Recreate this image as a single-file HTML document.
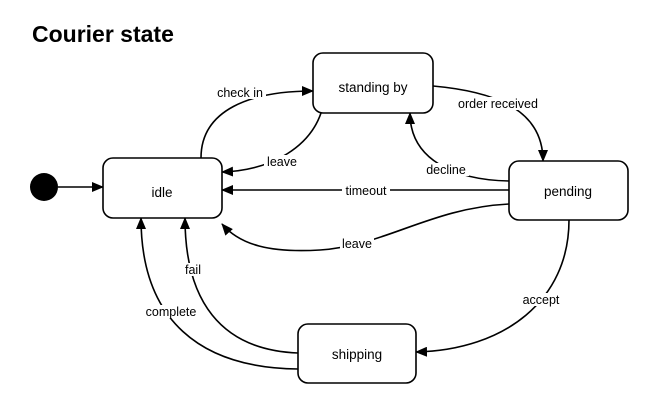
<!DOCTYPE html>
<html><head><meta charset="utf-8"><style>
html,body{margin:0;padding:0;background:#fff;}
svg{display:block;font-family:"Liberation Sans",sans-serif;}
</style></head><body>
<svg width="646" height="404" viewBox="0 0 646 404" xmlns="http://www.w3.org/2000/svg">
<defs>
<marker id="a" markerWidth="12" markerHeight="10" refX="11" refY="5" orient="auto" markerUnits="userSpaceOnUse">
<path d="M0,0 L12,5 L0,10 z" fill="#000"/></marker>
</defs>
<text x="32" y="42" font-size="23" font-weight="bold">Courier state</text>
<circle cx="44" cy="187" r="14" fill="#000"/>
<g fill="none" stroke="#000" stroke-width="1.6">
<path d="M58,187 L103,187" marker-end="url(#a)"/>
<path d="M201,158 C201,110 250,91 313,91" marker-end="url(#a)"/>
<path d="M321,113 C310,145 275,170 222,172" marker-end="url(#a)"/>
<path d="M433,86 C500,92 543,112 543,161" marker-end="url(#a)"/>
<path d="M509,181 C455,180 410,160 410,113" marker-end="url(#a)"/>
<path d="M509,190 L222,190" marker-end="url(#a)"/>
<path d="M509,204 C430,208 385,246 320,250 C270,253 240,245 222,224" marker-end="url(#a)"/>
<path d="M569,220 C569,300 505,350 416,352" marker-end="url(#a)"/>
<path d="M298,353 C220,350 185,300 185,218" marker-end="url(#a)"/>
<path d="M298,369 C200,368 141,320 141,218" marker-end="url(#a)"/>
</g>
<g fill="#fff" stroke="#000" stroke-width="1.6">
<rect x="103" y="158" width="119" height="60" rx="10"/>
<rect x="313" y="53" width="120" height="60" rx="10"/>
<rect x="509" y="161" width="119" height="59" rx="10"/>
<rect x="298" y="324" width="118" height="59" rx="10"/>
</g>
<g font-size="13.5" text-anchor="middle">
<text x="162" y="197">idle</text>
<text x="373" y="92">standing by</text>
<text x="568" y="196">pending</text>
<text x="357" y="359">shipping</text>
</g>
<g font-size="12.5" text-anchor="middle">
<g fill="#fff"><rect x="214" y="86" width="52" height="13"/><rect x="264" y="155" width="34" height="13"/><rect x="454" y="97" width="88" height="13"/><rect x="423" y="163" width="46" height="13"/><rect x="342" y="184" width="48" height="13"/><rect x="340" y="237" width="34" height="13"/><rect x="520" y="293" width="42" height="13"/><rect x="183" y="263" width="20" height="13"/><rect x="143" y="305" width="56" height="13"/></g>
<text x="240" y="97">check in</text>
<text x="282" y="166">leave</text>
<text x="498" y="108">order received</text>
<text x="446" y="174">decline</text>
<text x="366" y="195">timeout</text>
<text x="357" y="248">leave</text>
<text x="541" y="304">accept</text>
<text x="193" y="274">fail</text>
<text x="171" y="316">complete</text>
</g>
</svg>
</body></html>
